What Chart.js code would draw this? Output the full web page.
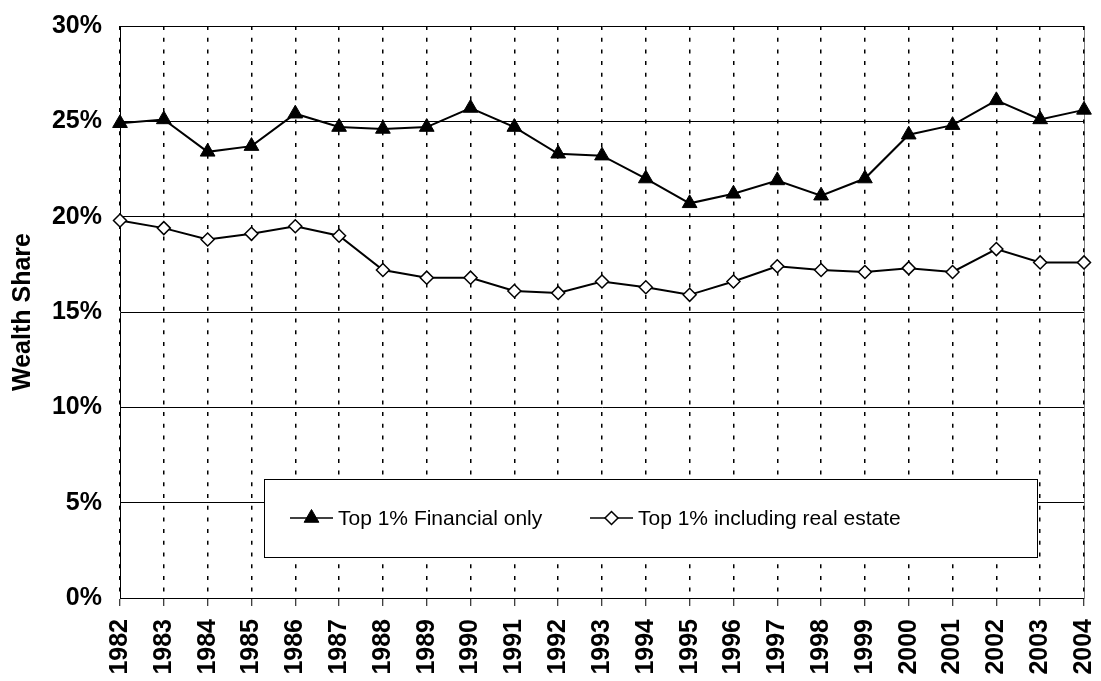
<!DOCTYPE html>
<html>
<head>
<meta charset="utf-8">
<script src="https://cdn.jsdelivr.net/npm/chart.js@4.4.1/dist/chart.umd.min.js"></script>
<style>
    body { margin: 0; background: #fff; }
    canvas { display: block; }
</style>
</head>
<body>
<canvas id="wealth-chart" width="1101" height="681"></canvas>
<script>
// Dados
const years = ['1982', '1983', '1984', '1985', '1986', '1987', '1988', '1989', '1990', '1991', '1992',
    '1993', '1994', '1995', '1996', '1997', '1998', '1999', '2000', '2001', '2002', '2003', '2004'];
const financialOnly = [24.9, 25.1, 23.4, 23.7, 25.4, 24.7, 24.6, 24.7, 25.7, 24.7, 23.3,
    23.2, 22.0, 20.7, 21.2, 21.9, 21.1, 22.0, 24.3, 24.8, 26.1, 25.1, 25.6];
const withRealEstate = [19.8, 19.4, 18.8, 19.1, 19.5, 19.0, 17.2, 16.8, 16.8, 16.1, 16.0,
    16.6, 16.3, 15.9, 16.6, 17.4, 17.2, 17.1, 17.3, 17.1, 18.3, 17.6, 17.6];
const seriesLabels = ['Top 1% Financial only', 'Top 1% including real estate'];
const yTicks = { min: 0, max: 30, step: 5 };

const FONT = "'Liberation Sans', Arial, sans-serif";

// Zera o padding calculado pelas escalas (a área do gráfico é fixada pelo layout)
function resetPadding(scale) {
    scale.paddingTop = 0;
    scale.paddingBottom = 0;
    scale.paddingLeft = 0;
    scale.paddingRight = 0;
}

// Borda direita da área do gráfico (cinza, sob as linhas pontilhadas)
const plotBorder = {
    id: 'plotBorder',
    beforeDraw(chart) {
        const { ctx, chartArea } = chart;
        ctx.save();
        ctx.strokeStyle = '#808080';
        ctx.lineWidth = 1;
        ctx.beginPath();
        ctx.moveTo(Math.round(chartArea.right) + 0.5, chartArea.top);
        ctx.lineTo(Math.round(chartArea.right) + 0.5, chartArea.bottom);
        ctx.stroke();
        ctx.restore();
    }
};

// Legenda desenhada dentro da área do gráfico, com fundo branco
const boxLegend = {
    id: 'boxLegend',
    afterDraw(chart) {
        const { ctx } = chart;
        const box = { x: 264, y: 479, w: 773, h: 78 };
        const itemX = [290, 590];
        const midY = box.y + 39;
        ctx.save();
        ctx.fillStyle = '#fff';
        ctx.fillRect(box.x, box.y, box.w, box.h);
        ctx.strokeStyle = '#000';
        ctx.lineWidth = 1;
        ctx.strokeRect(box.x + 0.5, box.y + 0.5, box.w, box.h);

        chart.data.datasets.forEach((ds, i) => {
            const x0 = itemX[i];
            ctx.strokeStyle = ds.borderColor;
            ctx.lineWidth = 1.5;
            ctx.beginPath();
            ctx.moveTo(x0, midY);
            ctx.lineTo(x0 + 43, midY);
            ctx.stroke();

            ctx.fillStyle = ds.pointBackgroundColor;
            ctx.strokeStyle = ds.pointBorderColor;
            ctx.lineWidth = ds.pointBorderWidth;
            Chart.helpers.drawPoint(ctx, {
                pointStyle: ds.pointStyle,
                radius: ds.pointRadius,
                borderWidth: ds.pointBorderWidth,
                rotation: 0
            }, x0 + 21.5, midY);

            ctx.fillStyle = '#000';
            ctx.font = '21px ' + FONT;
            ctx.textAlign = 'left';
            ctx.textBaseline = 'middle';
            ctx.fillText(ds.label, x0 + 48, midY + 1);
        });
        ctx.restore();
    }
};

const ctx = document.getElementById('wealth-chart');

new Chart(ctx, {
    type: 'line',
    data: {
        labels: years,
        datasets: [{
            label: seriesLabels[0],
            data: financialOnly,
            borderColor: '#000',
            borderWidth: 2,
            pointStyle: 'triangle',
            pointRadius: 8.5,
            pointBackgroundColor: '#000',
            pointBorderColor: '#000',
            pointBorderWidth: 1,
            tension: 0,
            clip: false
        }, {
            label: seriesLabels[1],
            data: withRealEstate,
            borderColor: '#000',
            borderWidth: 2,
            pointStyle: 'rectRot',
            pointRadius: 6.5,
            pointBackgroundColor: '#fff',
            pointBorderColor: '#000',
            pointBorderWidth: 1.5,
            tension: 0,
            clip: false
        }]
    },
    options: {
        responsive: false,
        animation: false,
        events: [],
        layout: {
            padding: { top: 26, right: 17, bottom: 0, left: 0 }
        },
        plugins: {
            legend: { display: false },
            tooltip: { enabled: false }
        },
        scales: {
            x: {
                offset: false,
                grid: {
                    color: '#000',
                    lineWidth: 1.5,
                    tickLength: 8,
                    tickColor: '#000',
                    tickWidth: 1,
                    tickBorderDash: []
                },
                border: {
                    display: true,
                    color: '#000',
                    width: 1,
                    dash: [4, 7.7]
                },
                ticks: {
                    autoSkip: false,
                    minRotation: 90,
                    maxRotation: 90,
                    padding: 13,
                    color: '#000',
                    font: { family: FONT, size: 25, weight: 'bold' }
                },
                afterFit(scale) {
                    scale.height = 83;
                    resetPadding(scale);
                }
            },
            y: {
                min: yTicks.min,
                max: yTicks.max,
                grid: {
                    color: '#000',
                    lineWidth: 1,
                    drawTicks: false
                },
                border: {
                    display: true,
                    color: '#000',
                    width: 1
                },
                ticks: {
                    stepSize: yTicks.step,
                    padding: 18,
                    color: '#000',
                    font: { family: FONT, size: 25, weight: 'bold' },
                    callback: function(value) {
                        return value + '%';
                    }
                },
                title: {
                    display: true,
                    text: 'Wealth Share',
                    color: '#000',
                    padding: { top: 8, bottom: 0 },
                    font: { family: FONT, size: 25, weight: 'bold' }
                },
                afterFit(scale) {
                    scale.width = 120;
                    resetPadding(scale);
                }
            }
        }
    },
    plugins: [plotBorder, boxLegend]
});
</script>
</body>
</html>
